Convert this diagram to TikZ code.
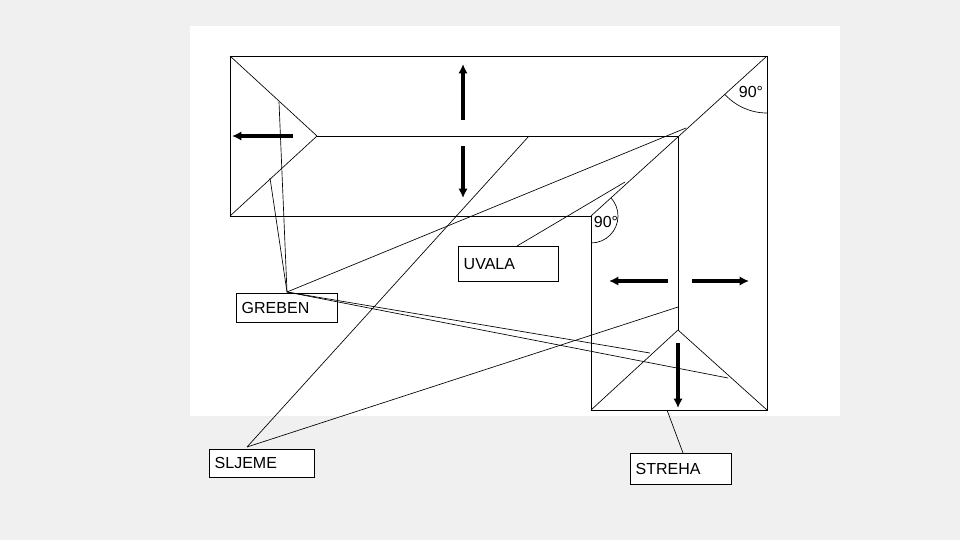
\documentclass[tikz,border=0pt]{standalone}
\usepackage{fontspec}
\setmainfont{Liberation Sans}
\usetikzlibrary{arrows.meta}
\begin{document}
\begin{tikzpicture}[x=0.75pt,y=-0.75pt,
  ln/.style={black,line width=0.6pt},
  thin/.style={black,line width=0.5pt},
  arr/.style={black,line width=2.6pt,-{Latex[length=7pt,width=7pt]}},
  lbl/.style 2 args={draw,line width=0.6pt,fill=white,font=\fontsize{12}{14}\selectfont,anchor=north west,text width=#1,minimum height=#2,inner xsep=4pt,inner ysep=0pt,align=left}]
\useasboundingbox (0,0) rectangle (960,540);
\fill[gray!12] (0,0) rectangle (960,540);
\fill[white] (190,26) rectangle (840,416);
% outline
\coordinate (TL) at (230,56); \coordinate (TR) at (767,56);
\coordinate (BR) at (767,410); \coordinate (BM) at (591,410);
\coordinate (IC) at (591,216); \coordinate (BL) at (230,216);
\coordinate (R1) at (317,136); \coordinate (R2) at (678,136); \coordinate (R3) at (678,330);
\draw[ln] (TL)--(TR)--(BR)--(BM)--(IC)--(BL)--cycle;
\draw[thin] (TL)--(R1)--(BL);
\draw[ln] (R1)--(R2)--(R3);
\draw[thin] (TR)--(IC);
\draw[thin] (BM)--(R3)--(BR);
% arrows
\coordinate (a1) at (463,120); \coordinate (a1e) at (463,64);
\coordinate (a2) at (463,146); \coordinate (a2e) at (463,198);
\coordinate (a3) at (293,136); \coordinate (a3e) at (232,136);
\coordinate (a4) at (668,281); \coordinate (a4e) at (609,281);
\coordinate (a5) at (692,281); \coordinate (a5e) at (749,281);
\coordinate (a6) at (678,343); \coordinate (a6e) at (678,408);
\draw[arr] (a1)--(a1e); \draw[arr] (a2)--(a2e); \draw[arr] (a3)--(a3e);
\draw[arr] (a4)--(a4e); \draw[arr] (a5)--(a5e); \draw[arr] (a6)--(a6e);
% angles
\draw[thin] (767,113) arc[start angle=90,end angle=138,radius=57];
\node[font=\fontsize{12}{14}\selectfont,inner sep=0] (ang1) at (751,92) {90°};
\draw[thin] (591,243) arc[start angle=90,end angle=-42,radius=27];
\node[font=\fontsize{12}{14}\selectfont,inner sep=0] (ang2) at (606,222) {90°};
% labels
\node[lbl={67pt}{26pt}] (uv) at (458,246) {UVALA};
\node[lbl={68pt}{22pt}] (gr) at (236,293) {GREBEN};
\node[lbl={71pt}{21pt}] (sl) at (209,449) {SLJEME};
\node[lbl={68pt}{23pt}] (st) at (630,453) {STREHA};
% leaders
\coordinate (g0) at (287,292);
\coordinate (g1) at (279,102); \coordinate (g2) at (270,178);
\coordinate (g3) at (686,128); \coordinate (g4) at (650,353); \coordinate (g5) at (728,378);
\draw[thin] (g0)--(g1); \draw[thin] (g0)--(g2); \draw[thin] (g0)--(g3);
\draw[thin] (g0)--(g4); \draw[thin] (g0)--(g5);
\coordinate (u0) at (517,246); \coordinate (u1) at (625,182);
\draw[thin] (u0)--(u1);
\coordinate (s0) at (247,447); \coordinate (s1) at (529,136); \coordinate (s2) at (678,307);
\draw[thin] (s0)--(s1); \draw[thin] (s0)--(s2);
\coordinate (t0) at (683,453); \coordinate (t1) at (667,410);
\draw[thin] (t0)--(t1);
\end{tikzpicture}
\end{document}
